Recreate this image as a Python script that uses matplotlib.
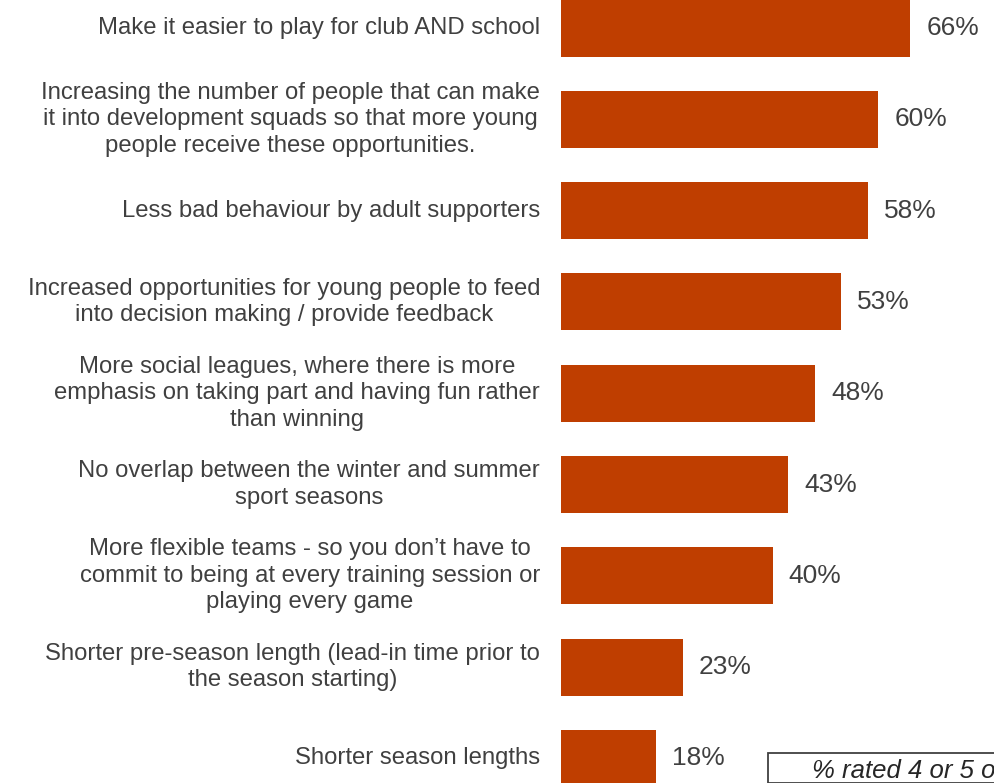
import matplotlib
matplotlib.use("Agg")
import matplotlib.pyplot as plt
from matplotlib.patches import Rectangle

plt.rcParams['font.family'] = ['Liberation Sans', 'DejaVu Sans']

categories = [
    "Make it easier to play for club AND school",
    "Increasing the number of people that can make\nit into development squads so that more young\npeople receive these opportunities.",
    "Less bad behaviour by adult supporters",
    "Increased opportunities for young people to feed\ninto decision making / provide feedback",
    "More social leagues, where there is more\nemphasis on taking part and having fun rather\nthan winning",
    "No overlap between the winter and summer\nsport seasons",
    "More flexible teams - so you don\u2019t have to\ncommit to being at every training session or\nplaying every game",
    "Shorter pre-season length (lead-in time prior to\nthe season starting)",
    "Shorter season lengths",
]
values = [66, 60, 58, 53, 48, 43, 40, 23, 18]
value_labels = [f"{v}%" for v in values]
note_text = "% rated 4 or 5 out of 5"

bar_color = "#BF3E00"
text_color = "#404040"

W, H = 995, 783
fig = plt.figure(figsize=(W / 100, H / 100), dpi=100)
ax_left = 561 / W
ax = fig.add_axes([ax_left, 0, 1 - ax_left, 1])
px_per_unit = 5.29
ax.set_xlim(0, (W - 561) / px_per_unit)
step = 91.3
ax.set_ylim((H - 28) / step, -28 / step)

ypos = list(range(len(values)))
ax.barh(ypos, values, height=0.625, color=bar_color, edgecolor="none")

for y, v, lab in zip(ypos, values, value_labels):
    ax.text(v + 16 / px_per_unit, y, lab, ha="left", va="center",
            fontsize=19, color=text_color)

for y, cat in zip(ypos, categories):
    ax.annotate(cat, xy=(0, y), xycoords="data", xytext=(-21, 0),
                textcoords="offset pixels", ha="right", va="center",
                multialignment="center", fontsize=17.2, color=text_color,
                linespacing=1.27, annotation_clip=False)

ax.axis("off")

# Note box along the bottom edge
fig.patches.append(Rectangle((768 / W, 0), 1, (H - 753) / H,
                             transform=fig.transFigure, facecolor="white",
                             edgecolor="#404040", linewidth=1.3, zorder=3))
fig.text(812 / W, 1 - 771 / H, note_text, ha="left", va="center",
         fontsize=18.5, style="italic", color="#262626", zorder=4)

fig.savefig("out.png", dpi=100)
